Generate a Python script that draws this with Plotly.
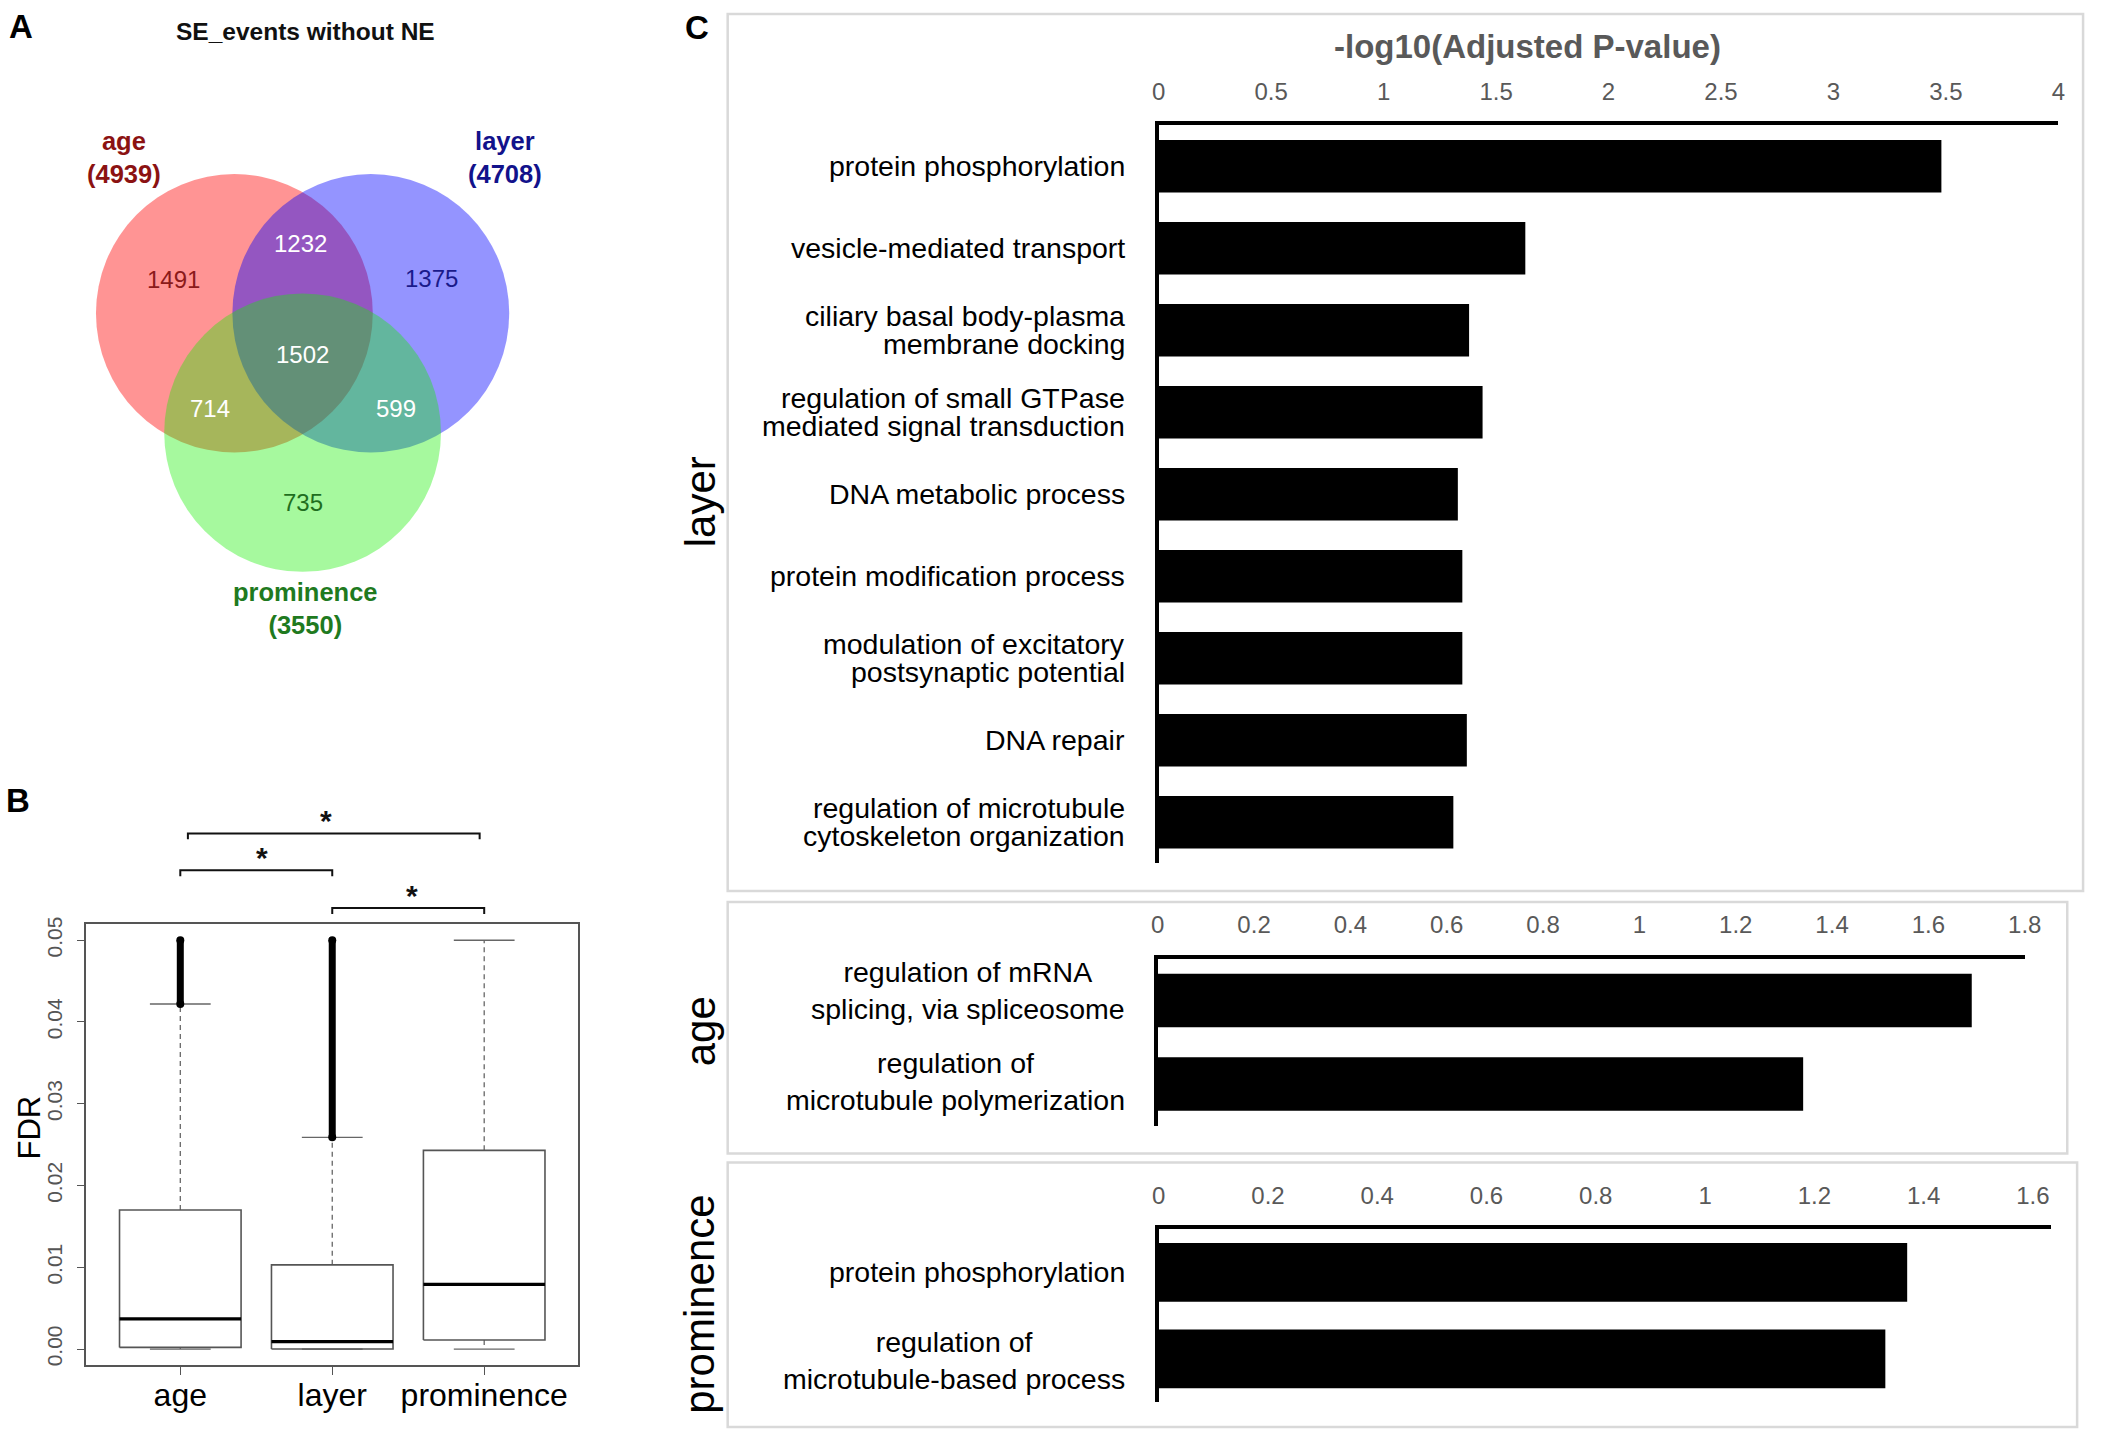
import plotly.graph_objects as go

W, H = 2105, 1440
FONT = "Liberation Sans, Arial, Helvetica, sans-serif"

# ---------------- Panel A: Venn data ----------------
venn_title = "SE_events without NE"
venn_sets = ["age", "layer", "prominence"]
venn_totals = [4939, 4708, 3550]
venn_set_text_colors = ["#8B1212", "#12128B", "#1F7A1F"]
venn_fill = ["rgba(255,0,0,0.42)", "rgba(0,0,255,0.42)", "rgba(20,240,0,0.38)"]
venn_regions = ["age only", "layer only", "prominence only",
                "age & layer", "age & prominence", "layer & prominence", "all three"]
venn_counts = [1491, 1375, 735, 1232, 714, 599, 1502]
venn_count_colors = ["#8B1A1A", "#1A1A8B", "#1F6E1F", "white", "white", "white", "white"]

# ---------------- Panel B: FDR box plot summary ----------------
box_groups = ["age", "layer", "prominence"]
fdr_q1 = [0.0002, 0.0000, 0.0011]
fdr_median = [0.0037, 0.0009, 0.0079]
fdr_q3 = [0.0170, 0.0103, 0.0243]
fdr_lower = [0.0, 0.0, 0.0]
fdr_upper = [0.0422, 0.0259, 0.0500]
fdr_outlier_min = [0.0422, 0.0259, None]
fdr_outlier_max = [0.0500, 0.0500, None]
fdr_ticks = [0.00, 0.01, 0.02, 0.03, 0.04, 0.05]
fdr_ticktext = ["0.00", "0.01", "0.02", "0.03", "0.04", "0.05"]
sig_pairs = [("age", "prominence"), ("age", "layer"), ("layer", "prominence")]
sig_marks = ["*", "*", "*"]

# ---------------- Panel C: GO enrichment ----------------
layer_terms = ["protein phosphorylation",
               "vesicle-mediated transport",
               "ciliary basal body-plasma<br>membrane docking",
               "regulation of small GTPase<br>mediated signal transduction",
               "DNA metabolic process",
               "protein modification process",
               "modulation of excitatory<br>postsynaptic potential",
               "DNA repair",
               "regulation of microtubule<br>cytoskeleton organization"]
layer_vals = [3.48, 1.63, 1.38, 1.44, 1.33, 1.35, 1.35, 1.37, 1.31]
layer_ticks = [0, 0.5, 1, 1.5, 2, 2.5, 3, 3.5, 4]

age_terms = ["regulation of mRNA<br>splicing, via spliceosome",
             "regulation of<br>microtubule polymerization"]
age_vals = [1.69, 1.34]
age_ticks = [0, 0.2, 0.4, 0.6, 0.8, 1, 1.2, 1.4, 1.6, 1.8]

prom_terms = ["protein phosphorylation",
              "regulation of<br>microtubule-based process"]
prom_vals = [1.37, 1.33]
prom_ticks = [0, 0.2, 0.4, 0.6, 0.8, 1, 1.2, 1.4, 1.6]

c_axis_title = "-log10(Adjusted P-value)"


def px(p):
    return p / W


def py(p):
    return 1 - p / H


fig = go.Figure()
shapes = []
ann = []


def pann(x, y, text, size, color="#000", angle=0, **kw):
    d = dict(x=px(x), y=py(y), xref="paper", yref="paper", text=text, showarrow=False,
             xanchor="center", yanchor="middle", textangle=angle,
             font=dict(size=size, color=color, family=FONT))
    d.update(kw)
    ann.append(d)


# ======== Panel A (Venn) on hidden axis x/y, 1 unit = 1 px ========
venn_geom = {"centers": [(234, 312), (372, 312), (303, 432)], "r": 140}
for (cx, cy), col in zip(venn_geom["centers"], venn_fill):
    r = venn_geom["r"]
    shapes.append(dict(type="circle", xref="x", yref="y", x0=cx - r, x1=cx + r,
                       y0=cy - r, y1=cy + r, fillcolor=col, line=dict(width=0),
                       layer="below"))
venn_count_pos = [(172, 278), (433, 277), (303, 502), (301, 242), (209, 408), (397, 408), (303, 353)]
for (x, y), n, c in zip(venn_count_pos, venn_counts, venn_count_colors):
    ann.append(dict(x=x, y=y, xref="x", yref="y", text=str(n), showarrow=False,
                    xanchor="center", yanchor="middle",
                    font=dict(size=24, color=c, family=FONT)))
venn_set_pos = [(122, 155), (508, 155), (306, 609)]
for (x, y), s, t, c in zip(venn_set_pos, venn_sets, venn_totals, venn_set_text_colors):
    ann.append(dict(x=x, y=y, xref="x", yref="y", text=f"<b>{s}<br>({t})</b>",
                    showarrow=False, xanchor="center", yanchor="middle",
                    font=dict(size=25.5, color=c, family=FONT)))
ann.append(dict(x=306, y=29, xref="x", yref="y", text=f"<b>{venn_title}</b>",
                showarrow=False, xanchor="center", yanchor="middle",
                font=dict(size=24.5, color="#111", family=FONT)))

# ======== Panel B (box plot) on x2/y2 ========
pos = [1, 2, 3]
gpos = dict(zip(box_groups, pos))
bx, by = [], []
mx, my = [], []
wx, wy = [], []
cx_, cy_ = [], []
for i, p in enumerate(pos):
    bx += [p - 0.4, p + 0.4, p + 0.4, p - 0.4, p - 0.4, None]
    by += [fdr_q1[i], fdr_q1[i], fdr_q3[i], fdr_q3[i], fdr_q1[i], None]
    mx += [p - 0.4, p + 0.4, None]
    my += [fdr_median[i], fdr_median[i], None]
    wx += [p, p, None, p, p, None]
    wy += [fdr_q3[i], fdr_upper[i], None, fdr_q1[i], fdr_lower[i], None]
    cx_ += [p - 0.2, p + 0.2, None, p - 0.2, p + 0.2, None]
    cy_ += [fdr_upper[i], fdr_upper[i], None, fdr_lower[i], fdr_lower[i], None]

fig.add_trace(go.Scatter(x=wx, y=wy, mode="lines", xaxis="x2", yaxis="y2",
                         line=dict(color="#666", width=1.3, dash="5px,4px"),
                         showlegend=False, hoverinfo="skip"))
fig.add_trace(go.Scatter(x=cx_, y=cy_, mode="lines", xaxis="x2", yaxis="y2",
                         line=dict(color="#666", width=1.3), showlegend=False, hoverinfo="skip"))
fig.add_trace(go.Scatter(x=bx, y=by, mode="lines", xaxis="x2", yaxis="y2",
                         line=dict(color="#555", width=1.6), showlegend=False, hoverinfo="skip"))
fig.add_trace(go.Scatter(x=mx, y=my, mode="lines", xaxis="x2", yaxis="y2",
                         line=dict(color="#000", width=3.2), showlegend=False, hoverinfo="skip"))
for i, p in enumerate(pos):
    if fdr_outlier_min[i] is None:
        continue
    fig.add_trace(go.Scatter(x=[p, p], y=[fdr_outlier_min[i], fdr_outlier_max[i]],
                             mode="lines+markers", xaxis="x2", yaxis="y2",
                             line=dict(color="#000", width=7),
                             marker=dict(color="#000", size=8),
                             showlegend=False, hoverinfo="skip"))

B_X0, B_X1, B_Y0, B_Y1 = 80, 578, 922, 1366
B_RANGE = [0.38, 3.62]


def b_xpaper(v):
    return B_X0 + (v - B_RANGE[0]) / (B_RANGE[1] - B_RANGE[0]) * (B_X1 - B_X0)


sig_geom = [(0.05, -0.03, 831, -8), (0.0, 0.0, 868, 6), (0.0, 0.0, 906, 4)]
for (a, b), mark, (da, db, yline, sdx) in zip(sig_pairs, sig_marks, sig_geom):
    x0 = b_xpaper(gpos[a] + da)
    x1 = b_xpaper(gpos[b] + db)
    shapes.append(dict(type="path", xref="paper", yref="paper",
                       path=f"M {px(x0)} {py(yline + 6)} L {px(x0)} {py(yline)} "
                            f"L {px(x1)} {py(yline)} L {px(x1)} {py(yline + 6)}",
                       line=dict(color="#111", width=2)))
    pann((x0 + x1) / 2 + sdx, yline - 13, f"<b>{mark}</b>", 30, "#111")

pann(23, 1127, "FDR", 31, angle=-90)

# ======== Panel C (three bar charts) ========
LABEL_RIGHT = 1133
bar_panels = [
    ("x3", "y3", layer_terms, layer_vals, 0.64, 28, "right", [0] * 9),
    ("x4", "y4", age_terms, age_vals, 0.64, 37, "center", [10, 2]),
    ("x5", "y5", prom_terms, prom_vals, 0.68, 36, "center", [0, -2]),
]
for xa, ya, terms, vals, wdt, lsp, al, lab_shift in bar_panels:
    fig.add_trace(go.Bar(x=vals, y=terms, orientation="h", xaxis=xa, yaxis=ya,
                         width=wdt, marker=dict(color="#000", line=dict(width=0)),
                         showlegend=False, hoverinfo="skip"))
    for t, sh in zip(terms, lab_shift):
        lines = t.split("<br>")
        if al == "right":
            n = len(lines)
            for k, ln in enumerate(lines):
                ann.append(dict(x=px(LABEL_RIGHT), y=t, xref="paper", yref=ya, text=ln,
                                xanchor="right", yanchor="middle",
                                yshift=((n - 1) / 2 - k) * lsp + sh,
                                showarrow=False, font=dict(size=28.5, color="#000", family=FONT)))
        else:
            ann.append(dict(x=px(LABEL_RIGHT), y=t, xref="paper", yref=ya, text=t,
                            xanchor="right", yanchor="middle", align="center", yshift=sh,
                            showarrow=False, font=dict(size=28.5, color="#000", family=FONT)))

pann(1538, 40, f"<b>{c_axis_title}</b>", 33, "#595959")
for lab, yc in [("layer", 498), ("age", 1030), ("prominence", 1305)]:
    pann(701, yc, lab, 42, angle=-90)

# panel boxes
for (x0, y0, x1, y1) in [(729, 7, 2100, 889), (729, 900, 2084, 1153), (729, 1162, 2094, 1428)]:
    shapes.append(dict(type="rect", xref="paper", yref="paper", x0=px(x0), x1=px(x1),
                       y0=py(y0), y1=py(y1), line=dict(color="#D9D9D9", width=2.5),
                       fillcolor="rgba(0,0,0,0)", layer="below"))

# panel letters
for letter, (x, y) in [("A", (14, 20)), ("B", (11, 798)), ("C", (698, 21))]:
    pann(x, y, f"<b>{letter}</b>", 33)

hidden = dict(visible=False, showgrid=False, zeroline=False)


def c_xaxis(dom, rng, ticks):
    return dict(domain=[px(dom[0]), px(dom[1])], range=rng, side="top",
                tickvals=ticks, ticktext=[f"{t:g}" for t in ticks],
                showline=True, linecolor="#000", linewidth=4, ticks="",
                tickfont=dict(size=24, color="#595959", family=FONT),
                ticklabelstandoff=12, showgrid=False, zeroline=False, fixedrange=True)


def c_yaxis(dom, n, anchor):
    return dict(domain=[py(dom[1]), py(dom[0])], range=[n - 0.5, -0.5], type="category",
                showline=True, linecolor="#000", linewidth=4, ticks="",
                showticklabels=False, showgrid=False, zeroline=False, anchor=anchor)


fig.update_layout(
    width=W, height=H, margin=dict(l=0, r=0, t=0, b=0),
    paper_bgcolor="white", plot_bgcolor="rgba(0,0,0,0)",
    font=dict(family=FONT),
    xaxis=dict(domain=[0, px(700)], range=[4, 704], **hidden),
    yaxis=dict(domain=[py(700), 1], range=[704, 4], **hidden),
    xaxis2=dict(domain=[px(B_X0), px(B_X1)], range=B_RANGE, anchor="y2",
                tickvals=pos, ticktext=box_groups, ticks="outside", ticklen=8,
                tickcolor="#555", tickwidth=1.3,
                showline=True, mirror=True, linecolor="#555", linewidth=1.5,
                tickfont=dict(size=32, color="#000", family=FONT), ticklabelstandoff=-8,
                showgrid=False, zeroline=False),
    yaxis2=dict(domain=[py(B_Y1), py(B_Y0)], range=[-0.002, 0.052], anchor="x2",
                tickvals=fdr_ticks, ticktext=fdr_ticktext, tickangle=-90,
                ticks="outside", ticklen=7, tickcolor="#555", tickwidth=1.3,
                showline=True, mirror=True, linecolor="#555", linewidth=1.5,
                tickfont=dict(size=21, color="#555", family=FONT), ticklabelstandoff=7,
                showgrid=False, zeroline=False),
    xaxis3=dict(anchor="y3", **c_xaxis((1165, 2075), [0, 4], layer_ticks)),
    yaxis3=c_yaxis((119, 861), len(layer_terms), "x3"),
    xaxis4=dict(anchor="y4", **c_xaxis((1164, 2041), [0, 1.8], age_ticks)),
    yaxis4=c_yaxis((957, 1125), len(age_terms), "x4"),
    xaxis5=dict(anchor="y5", **c_xaxis((1165, 2068), [0, 1.634], prom_ticks)),
    yaxis5=c_yaxis((1229, 1403), len(prom_terms), "x5"),
    shapes=shapes, annotations=ann,
)

fig.write_html("out.html", config={"displayModeBar": False},
               post_script="document.body.style.margin='0px';")
